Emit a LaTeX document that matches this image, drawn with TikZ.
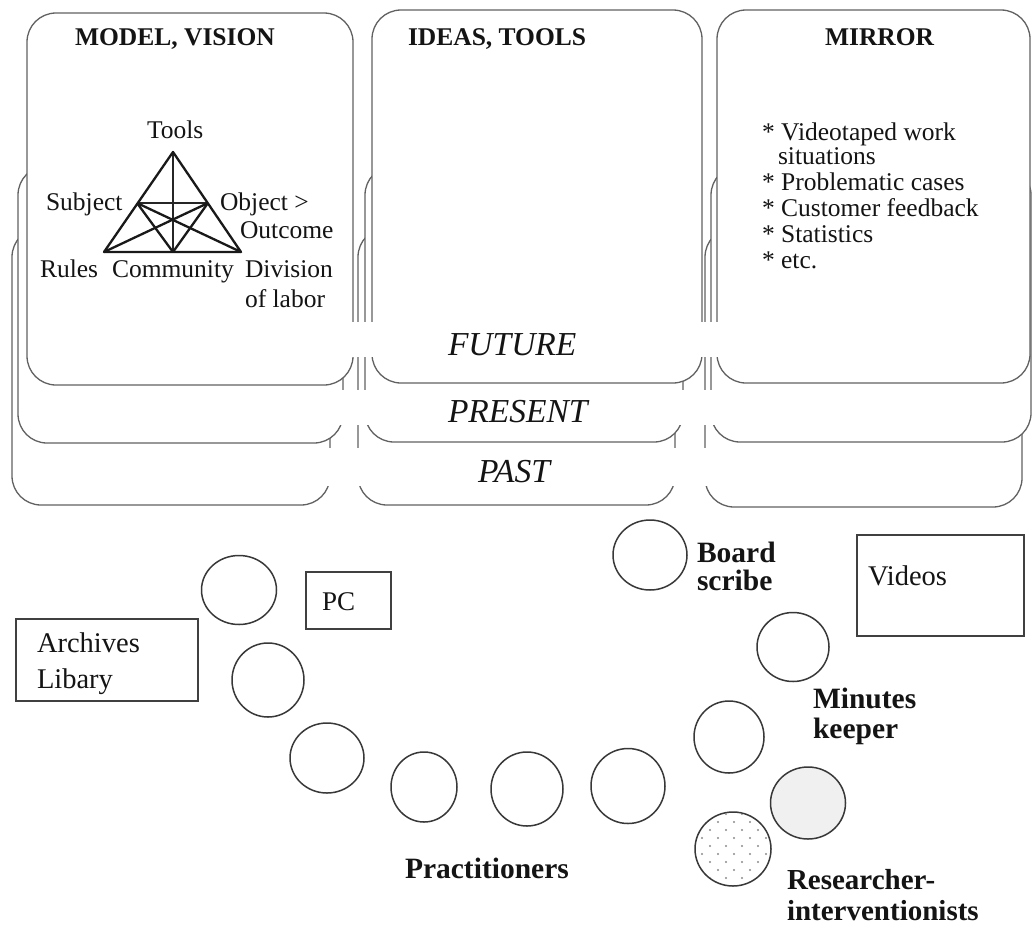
\documentclass[tikz,border=0pt]{standalone}
\usepackage{fontspec}
\setmainfont{Liberation Serif}
\usetikzlibrary{shapes.geometric}
\begin{document}
\begin{tikzpicture}[x=1pt,y=-1pt,
  card/.style={draw=black!62, line width=1.3pt, fill=white, rounded corners=29pt},
  band/.style={fill=white, draw=none},
  seat/.style={draw=black!78, line width=1.5pt, ellipse, inner sep=0pt},
  thing/.style={draw=black!75, line width=1.4pt},
  lbl/.style={anchor=base west, inner sep=0pt, outer sep=0pt, text=black!92},
  head/.style={lbl, font=\fontsize{25.5}{26}\selectfont\bfseries},
  tri/.style={lbl, font=\fontsize{25.5}{26}\selectfont},
  timelbl/.style={lbl, font=\fontsize{33.5}{34}\selectfont\itshape},
  role/.style={lbl, font=\fontsize{29.5}{30}\selectfont\bfseries},
  objlbl/.style={lbl, font=\fontsize{28.5}{30}\selectfont},
  tribold/.style={line width=2.3pt, black!90, line join=round},
  trithin/.style={line width=1.3pt, black!85}
]
\useasboundingbox (0,0) rectangle (1032,926);
\fill[white] (0,0) rectangle (1032,926);

% ---- left column: past, present, future
\draw[card] (12,228) rectangle (330,505);
\draw[card] (18,166) rectangle (343,443);
\draw[card] (27,13) rectangle (353,385);
% ---- middle column
\draw[card] (358,228) rectangle (675,505);
\draw[card] (365,166) rectangle (683,442);
\draw[card] (372,10) rectangle (702,383);
% ---- right column
\draw[card] (705,228) rectangle (1022,507);
\draw[card] (711,166) rectangle (1031,442);
\draw[card] (717,10) rectangle (1030,383);

% white bands behind the time labels
\path[band] (318,322) rectangle (728,357);
\path[band] (318,390) rectangle (728,425);
\path[band] (318,448) rectangle (728,486);

% headings
\node[head] (hmodel) at (75,45) {MODEL, VISION};
\node[head] (hideas) at (408,45) {IDEAS, TOOLS};
\node[head] (hmirror) at (825,45) {MIRROR};

% time labels
\node[timelbl] (future) at (448,355) {FUTURE};
\node[timelbl] (present) at (448,422) {PRESENT};
\node[timelbl] (past) at (478,482) {PAST};

% activity triangle
\coordinate (vT) at (173,152);
\coordinate (vS) at (137,203);
\coordinate (vO) at (208,203);
\coordinate (vR) at (104,252);
\coordinate (vC) at (173,252);
\coordinate (vD) at (241,252);
\draw[trithin] (vT) -- (vC);
\draw[trithin] (vS) -- (vO);
\draw[tribold] (vT) -- (vR) -- (vD) -- cycle;
\draw[tribold] (vS) -- (vC);
\draw[tribold] (vS) -- (vD);
\draw[tribold] (vO) -- (vC);
\draw[tribold] (vO) -- (vR);

\node[tri] (ttools) at (147,138) {Tools};
\node[tri] (tsubj) at (46,210) {Subject};
\node[tri] (tobj) at (220,210) {Object >};
\node[tri] (tout) at (240,238) {Outcome};
\node[tri] (trules) at (40,277) {Rules};
\node[tri] (tcomm) at (112,277) {Community};
\node[tri] (tdiv) at (245,277) {Division};
\node[tri] (tlab) at (245,307) {of labor};

% mirror list
\node[tri] (m1) at (762,140) {* Videotaped work};
\node[tri] (m1b) at (778,164) {situations};
\node[tri] (m2) at (762,190) {* Problematic cases};
\node[tri] (m3) at (762,216) {* Customer feedback};
\node[tri] (m4) at (762,242) {* Statistics};
\node[tri] (m5) at (762,268) {* etc.};

% room objects
\node[thing, minimum width=182pt, minimum height=82pt, inner sep=0pt] (archbox) at (107,660) {};
\node[objlbl] (arch1) at (37,652) {Archives};
\node[objlbl] (arch2) at (37,688) {Libary};
\node[thing, minimum width=85pt, minimum height=57pt, inner sep=0pt] (pcbox) at (348.5,600.5) {};
\node[objlbl, font=\fontsize{27}{28}\selectfont] (pc) at (322,610) {PC};
\node[thing, minimum width=167pt, minimum height=101pt, inner sep=0pt] (vidbox) at (940.5,585.5) {};
\node[objlbl] (videos) at (868,585) {Videos};

% seats
\node[seat, minimum width=75pt, minimum height=69pt] (s1) at (239,590) {};
\node[seat, minimum width=72pt, minimum height=74pt] (s2) at (268,680) {};
\node[seat, minimum width=74pt, minimum height=70pt] (s3) at (327,758) {};
\node[seat, minimum width=66pt, minimum height=70pt] (s4) at (424,787) {};
\node[seat, minimum width=72pt, minimum height=74pt] (s5) at (527,789) {};
\node[seat, minimum width=74pt, minimum height=75pt] (s6) at (628,786) {};
\node[seat, minimum width=70pt, minimum height=72pt] (s7) at (729,737) {};
\node[seat, minimum width=74pt, minimum height=70pt] (board) at (650,555) {};
\node[seat, minimum width=72pt, minimum height=69pt] (minutes) at (793,647) {};
\node[seat, fill=black!6, minimum width=75pt, minimum height=72pt] (gray) at (808,803) {};
\begin{scope}
  \clip (733,849) ellipse [x radius=37, y radius=36];
  \foreach \r in {0,...,12} {
    \foreach \c in {0,...,6} {
      \fill[black!45] ({686+16*\c+8*mod(\r,2)}, {806+8*\r}) circle (1.1pt);
    }
  }
\end{scope}
\node[seat, minimum width=76pt, minimum height=74pt] (dotted) at (733,849) {};

% role labels
\node[role, text depth=0pt] (lb1) at (697,562) {Board};
\node[role] (lb2) at (697,590) {scribe};
\node[role, text depth=0pt] (lm1) at (813,708) {Minutes};
\node[role] (lm2) at (813,738) {keeper};
\node[role] (lp) at (405,878) {Practitioners};
\node[role, font=\fontsize{29}{30}\selectfont\bfseries, text depth=0pt] (lr1) at (787,889) {Researcher-};
\node[role, font=\fontsize{29}{30}\selectfont\bfseries] (lr2) at (787,920) {interventionists};
\end{tikzpicture}
\end{document}
